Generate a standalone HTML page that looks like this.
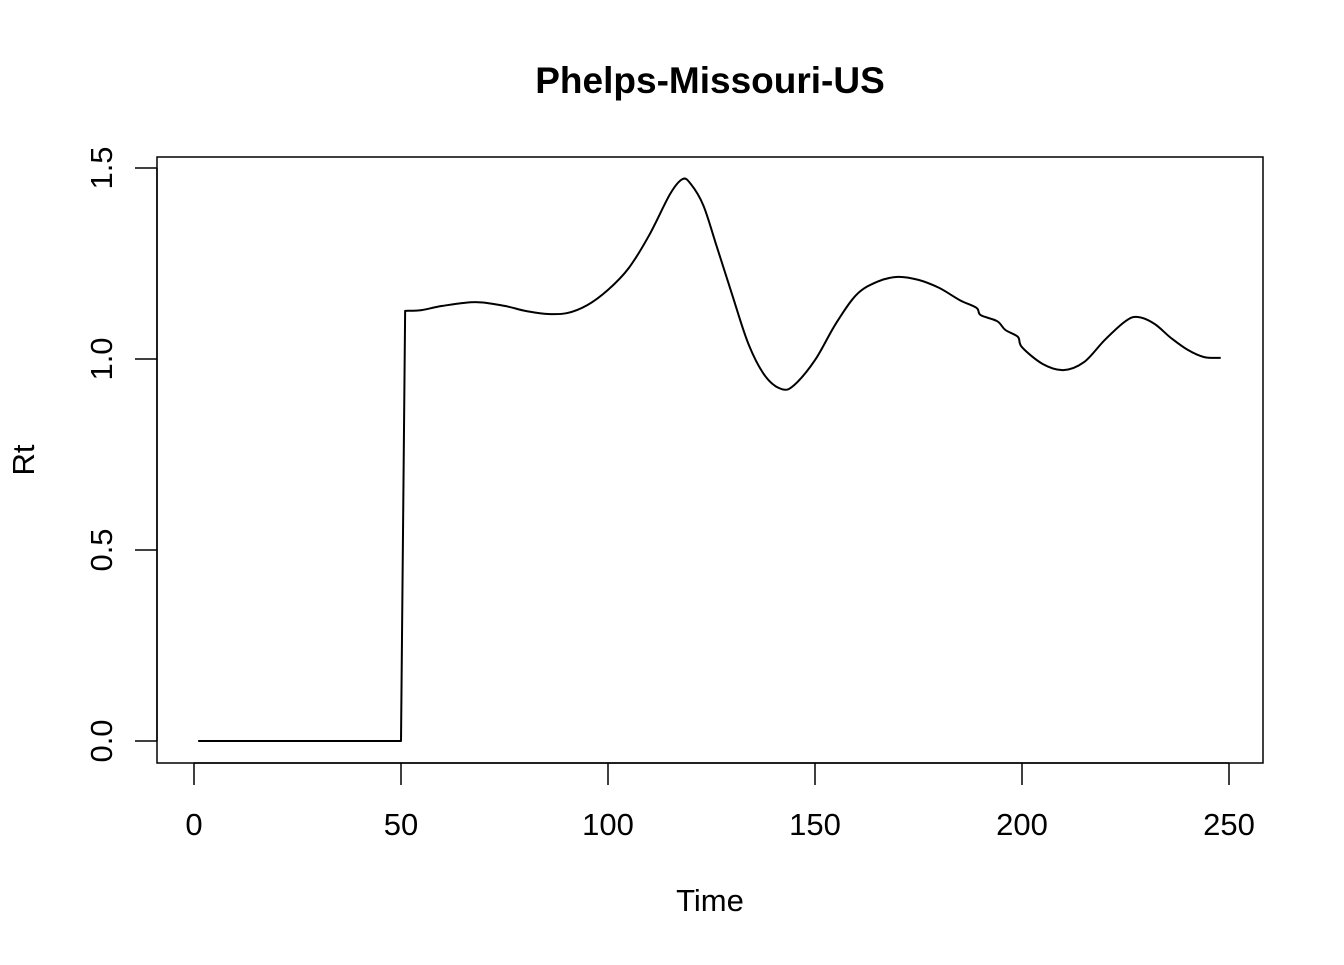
<!DOCTYPE html>
<html><head><meta charset="utf-8"><style>
body{margin:0;background:#fff;}
svg text{font-family:"Liberation Sans",Arial,sans-serif;fill:#000;}
</style></head><body>
<svg id="chart" width="1344" height="960" xmlns="http://www.w3.org/2000/svg">
<rect width="1344" height="960" fill="#fff"/>
<text x="710" y="93" font-size="37" font-weight="bold" text-anchor="middle">Phelps-Missouri-US</text>
<rect x="157" y="157" width="1106" height="606" fill="none" stroke="#000" stroke-width="1.5"/>
<g id="xaxis"></g>
<g id="yaxis"></g>
<text x="710" y="911" font-size="31" text-anchor="middle">Time</text>
<text transform="translate(34,460) rotate(-90)" font-size="31" text-anchor="middle">Rt</text>
<g id="series"></g>
</svg>
<script>
const times=[1,50,51,55,60,68,75,80,85,90,95,100,105,110,115,118,120,123,126,130,134,138,142,145,150,155,160,165,170,175,180,185,189,190,194,196,199,200,205,210,215,220,225,228,232,236,240,244,248];
const rtValues=[0,0,1.126,1.128,1.139,1.149,1.139,1.126,1.118,1.120,1.141,1.181,1.238,1.325,1.432,1.471,1.458,1.403,1.304,1.168,1.037,0.955,0.921,0.932,0.997,1.092,1.168,1.202,1.215,1.207,1.186,1.154,1.134,1.115,1.099,1.076,1.058,1.031,0.987,0.971,0.992,1.050,1.099,1.110,1.092,1.055,1.024,1.005,1.003];
const xTicks=[0,50,100,150,200,250];
const yTicks=[0,0.5,1.0,1.5];
const yTickLabels=["0.0","0.5","1.0","1.5"];
const NS="http://www.w3.org/2000/svg";
const xs=t=>194+t*(1229-194)/250;
const ys=v=>741-v*(741-168)/1.5;
function mk(tag,attrs,parent){const e=document.createElementNS(NS,tag);for(const k in attrs)e.setAttribute(k,attrs[k]);parent.appendChild(e);return e;}
const xa=document.getElementById('xaxis'),ya=document.getElementById('yaxis'),sg=document.getElementById('series');
mk('line',{x1:xs(xTicks[0]),x2:xs(xTicks[xTicks.length-1]),y1:763,y2:763,stroke:'#000','stroke-width':1.5},xa);
xTicks.forEach(t=>{
  const l=mk('line',{x1:xs(t),x2:xs(t),y1:763,y2:785,stroke:'#000','stroke-width':1.5},xa);
  
  
  const tx=mk('text',{x:xs(t),y:835,'font-size':31,'text-anchor':'middle'},xa);tx.textContent=t;
  
  
});
mk('line',{x1:157,x2:157,y1:ys(yTicks[0]),y2:ys(yTicks[yTicks.length-1]),stroke:'#000','stroke-width':1.5},ya);
yTicks.forEach((v,i)=>{
  const l=mk('line',{x1:135,x2:157,y1:ys(v),y2:ys(v),stroke:'#000','stroke-width':1.5},ya);
  
  
  const tx=mk('text',{transform:`translate(112,${ys(v)}) rotate(-90)`,'font-size':31,'text-anchor':'middle'},ya);tx.textContent=yTickLabels[i];
  
  
});
const P=times.map((t,i)=>[xs(t),ys(rtValues[i])]);
let d=`M${P[0][0]},${P[0][1]} L${P[1][0]},${P[1][1]} L${P[2][0]},${P[2][1]}`;
for(let i=2;i<P.length-1;i++){
  const p0=P[i-1<2?2:i-1],p1=P[i],p2=P[i+1],p3=P[i+2<P.length?i+2:P.length-1];
  const c1=[p1[0]+(p2[0]-p0[0])/6,p1[1]+(p2[1]-p0[1])/6];
  const c2=[p2[0]-(p3[0]-p1[0])/6,p2[1]-(p3[1]-p1[1])/6];
  d+=` C${c1[0].toFixed(1)},${c1[1].toFixed(1)} ${c2[0].toFixed(1)},${c2[1].toFixed(1)} ${p2[0].toFixed(1)},${p2[1].toFixed(1)}`;
}
const pl=mk('path',{d:d,fill:'none',stroke:'#000','stroke-width':2,'stroke-linejoin':'round'},sg);


</script>
</body></html>
